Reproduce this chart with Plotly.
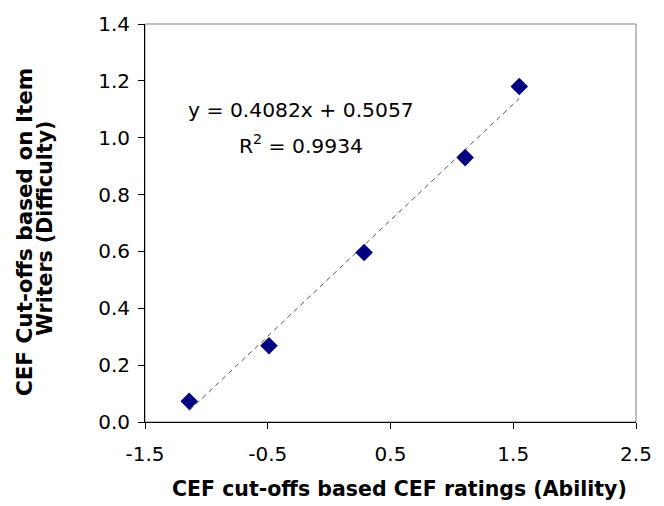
import plotly.graph_objects as go

# Data
ability = [-1.14, -0.49, 0.285, 1.108, 1.549]
difficulty = [0.073, 0.268, 0.596, 0.930, 1.180]

slope = 0.4082
intercept = 0.5057
r2 = 0.9934

x_ticks = [-1.5, -0.5, 0.5, 1.5, 2.5]
y_ticks = [0.0, 0.2, 0.4, 0.6, 0.8, 1.0, 1.2, 1.4]

FONT = "DejaVu Sans"

trend_x = [min(ability), max(ability)]
trend_y = [slope * v + intercept for v in trend_x]

W, H = 664, 506
L, R, T, B = 145, 17, 20, 84
pw, ph = W - L - R, H - T - B


def px_x(p):
    return (p - L) / pw


def px_y(p):
    return 1 - (p - T) / ph


fig = go.Figure()
fig.add_trace(go.Scatter(
    x=trend_x, y=trend_y, mode="lines",
    line=dict(color="#555555", width=1, dash="5px,4px"),
    showlegend=False, hoverinfo="skip"))
fig.add_trace(go.Scatter(
    x=ability, y=difficulty, mode="markers",
    marker=dict(symbol="diamond", size=13.5, color="#000080",
                line=dict(width=0)),
    showlegend=False))


def ann(text, x, y, angle=0, bold=False, size=20):
    return dict(text=f"<b>{text}</b>" if bold else text,
                x=px_x(x), y=px_y(y), xref="paper", yref="paper",
                xanchor="center", yanchor="middle", showarrow=False,
                textangle=angle, font=dict(family=FONT, size=size, color="black"))


fig.update_layout(
    width=W, height=H,
    margin=dict(l=L, r=R, t=T, b=B),
    paper_bgcolor="white", plot_bgcolor="white",
    font=dict(family=FONT, size=20, color="black"),
    xaxis=dict(range=[-1.5, 2.5], tickvals=x_ticks,
               ticktext=[f"{v:.1f}" for v in x_ticks],
               showgrid=False, zeroline=False,
               showline=True, linecolor="black", linewidth=1,
               ticks="outside", ticklen=6, tickcolor="black",
               ticklabelstandoff=8,
               tickfont=dict(family=FONT, size=20)),
    yaxis=dict(range=[0, 1.4], tickvals=y_ticks,
               ticktext=[f"{v:.1f}" for v in y_ticks],
               showgrid=False, zeroline=False,
               showline=True, linecolor="black", linewidth=1,
               ticks="outside", ticklen=6, tickcolor="black",
               ticklabelstandoff=4,
               tickfont=dict(family=FONT, size=20)),
    shapes=[dict(type="rect", xref="paper", yref="paper",
                 x0=0, y0=0, x1=1, y1=1,
                 line=dict(color="#808080", width=1), layer="below")],
    annotations=[
        ann(f"y = {slope:.4f}x + {intercept:.4f}", 304, 107, size=20.3),
        ann(f"R<sup>2</sup> = {r2:.4f}", 304, 142, size=20.3),
        ann("CEF cut-offs based CEF ratings (Ability)", 405, 490, bold=True, size=20.5),
        ann("CEF Cut-offs based on Item", 22.5, 230, angle=-90, bold=True, size=21.5),
        ann("Writers (Difficulty)", 42.5, 226, angle=-90, bold=True, size=20.5),
    ],
)

fig.write_html("out.html", config={"displayModeBar": False},
               post_script="document.body.style.margin='0';")
